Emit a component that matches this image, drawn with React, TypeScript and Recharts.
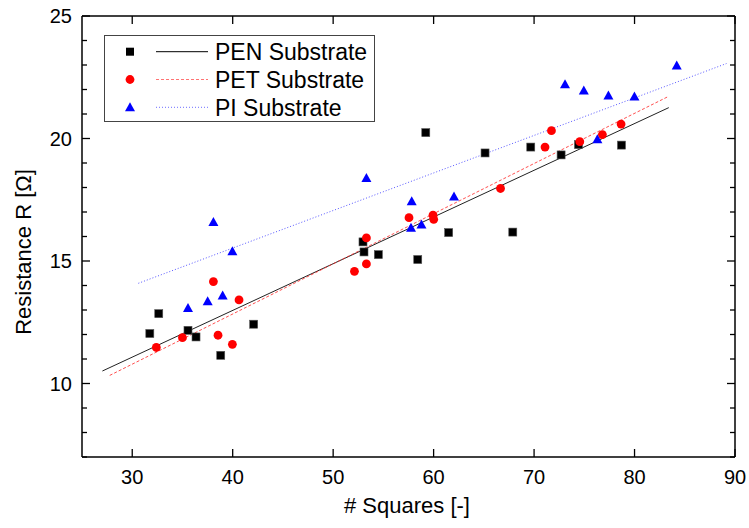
import { ComposedChart, Line, Scatter, XAxis, YAxis, Legend } from "recharts";

// measured data: [# squares, resistance]
const penPoints = [
  [31.75, 12.04], [32.64, 12.85], [35.55, 12.17], [36.35, 11.9], [38.81, 11.15], [42.09, 12.42],
  [52.97, 15.78], [53.07, 15.37], [54.5, 15.26], [58.42, 15.06], [59.22, 20.24], [61.5, 16.16],
  [65.12, 19.41], [67.88, 16.18], [69.67, 19.65], [72.69, 19.33], [74.42, 19.75], [78.7, 19.73],
];
const petPoints = [
  [32.4, 11.47], [35.0, 11.87], [38.08, 14.16], [38.54, 11.97], [39.97, 11.6], [40.63, 13.41],
  [52.12, 14.58], [53.31, 15.94], [53.31, 14.88], [57.55, 16.77], [59.94, 16.87], [60.01, 16.7],
  [66.66, 17.96], [71.09, 19.65], [71.73, 20.32], [74.55, 19.87], [76.8, 20.16], [78.66, 20.59],
];
const piPoints = [
  [35.55, 13.08], [37.51, 13.36], [38.08, 16.59], [39.0, 13.59], [39.97, 15.4], [53.31, 18.39],
  [57.75, 16.36], [57.82, 17.44], [58.79, 16.49], [62.03, 17.63], [73.08, 22.21], [74.95, 21.96],
  [76.3, 19.97], [77.4, 21.76], [79.99, 21.71], [84.2, 22.98],
];

// linear fit end points
const penFit = [[27.03, 10.51], [83.41, 21.26]];
const petFit = [[27.76, 10.33], [83.34, 21.71]];
const piFit = [[30.61, 14.09], [89.15, 23.06]];

const xTicks = [30, 40, 50, 60, 70, 80, 90];
const yTicks = [7, 8, 9, 10, 11, 12, 13, 14, 15, 16, 17, 18, 19, 20, 21, 22, 23, 24, 25];
const yMajor = [10, 15, 20, 25];

const seriesNames = ["PEN Substrate", "PET Substrate", "PI Substrate"];

const FONT = "'Liberation Sans', Arial, sans-serif";
const toXY = (arr: number[][]) => arr.map(([x, y]) => ({ x, y }));

function Square(p: any) {
  return <rect x={p.cx - 4} y={p.cy - 4} width={8} height={8} fill="#000" stroke="#555" strokeWidth={0.6} />;
}
function Dot(p: any) {
  return <circle cx={p.cx} cy={p.cy} r={4.4} fill="#ff0000" />;
}
function Tri(p: any) {
  return <polygon points={`${p.cx},${p.cy - 5} ${p.cx + 5},${p.cy + 4} ${p.cx - 5},${p.cy + 4}`} fill="#0000ff" />;
}

function LeftTick(p: any) {
  const v = p.payload.value;
  const major = yMajor.includes(v);
  return (
    <g>
      <line x1={p.x} x2={p.x + (major ? 8 : 5)} y1={p.y} y2={p.y} stroke="#000" strokeWidth={1.3} />
      {major && (
        <text x={p.x - 10} y={p.y} dy="0.36em" textAnchor="end" fontSize={20} fontFamily={FONT} fill="#000">
          {v}
        </text>
      )}
    </g>
  );
}
function RightTick(p: any) {
  const major = yMajor.includes(p.payload.value);
  return <line x1={p.x} x2={p.x - (major ? 8 : 5)} y1={p.y} y2={p.y} stroke="#000" strokeWidth={1.3} />;
}
function BottomTick(p: any) {
  return (
    <g>
      <line x1={p.x} x2={p.x} y1={p.y} y2={p.y - 8} stroke="#000" strokeWidth={1.3} />
      <text x={p.x} y={p.y + 27} textAnchor="middle" fontSize={20} fontFamily={FONT} fill="#000">
        {p.payload.value}
      </text>
    </g>
  );
}
function TopTick(p: any) {
  return <line x1={p.x} x2={p.x} y1={p.y} y2={p.y + 8} stroke="#000" strokeWidth={1.3} />;
}

function LegendBox() {
  const rows = [
    { mark: <rect x={126} y={-4} width={8} height={8} fill="#000" />, stroke: "#000", dash: undefined, op: 1 },
    { mark: <circle cx={130} cy={0} r={4.4} fill="#ff0000" />, stroke: "#ff5050", dash: "3 2", op: 0.8 },
    { mark: <polygon points="130,-5 135,4 125,4" fill="#0000ff" />, stroke: "#4848ff", dash: "1 2", op: 0.8 },
  ];
  return (
    <svg width={275} height={92} style={{ display: "block" }}>
      <g transform="translate(-103,-34)">
        <rect x={104.5} y={35.5} width={270} height={86} fill="#fff" stroke="#444" strokeWidth={1} />
        {rows.map((r, i) => (
          <g key={i} transform={`translate(0,${51.7 + i * 27.8})`}>
            {r.mark}
            <line x1={156} x2={208} y1={0} y2={0} stroke={r.stroke} strokeDasharray={r.dash} strokeOpacity={r.op} strokeWidth={1} />
            <text x={215} y={0} dy="0.36em" fontSize={23} fontFamily={FONT} fill="#000">
              {seriesNames[i]}
            </text>
          </g>
        ))}
      </g>
    </svg>
  );
}

export default function App() {
  return (
    <div style={{ position: "absolute", left: 0, top: 0, width: 749, height: 528, background: "#fff" }}>
      <ComposedChart width={749} height={528} margin={{ top: 15, right: 13, bottom: 0, left: 0 }}>
        <XAxis
          xAxisId="b"
          dataKey="x"
          type="number"
          domain={[25, 90]}
          ticks={xTicks}
          interval={0}
          allowDataOverflow
          height={71}
          tickSize={0}
          tickMargin={0}
          tickLine={false}
          tick={BottomTick}
          axisLine={{ stroke: "#000", strokeWidth: 1.5 }}
          label={{
            content: () => (
              <text x={407} y={513} textAnchor="middle" fontSize={22} fontFamily={FONT} fill="#000">
                # Squares [-]
              </text>
            ),
          }}
        />
        <XAxis
          xAxisId="t"
          orientation="top"
          dataKey="x"
          type="number"
          domain={[25, 90]}
          ticks={xTicks}
          interval={0}
          allowDataOverflow
          height={1}
          tickSize={0}
          tickMargin={0}
          tickLine={false}
          tick={TopTick}
          axisLine={{ stroke: "#000", strokeWidth: 1.5 }}
        />
        <YAxis
          yAxisId="l"
          type="number"
          domain={[7, 25]}
          ticks={yTicks}
          interval={0}
          allowDataOverflow
          width={82}
          tickSize={0}
          tickMargin={0}
          tickLine={false}
          tick={LeftTick}
          axisLine={{ stroke: "#000", strokeWidth: 1.5 }}
          label={{
            content: () => (
              <text
                x={31}
                y={252}
                transform="rotate(-90 31 252)"
                textAnchor="middle"
                fontSize={22}
                fontFamily={FONT}
                fill="#000"
              >
                Resistance R [Ω]
              </text>
            ),
          }}
        />
        <YAxis
          yAxisId="r"
          orientation="right"
          type="number"
          domain={[7, 25]}
          ticks={yTicks}
          interval={0}
          allowDataOverflow
          width={1}
          tickSize={0}
          tickMargin={0}
          tickLine={false}
          tick={RightTick}
          axisLine={{ stroke: "#000", strokeWidth: 1.5 }}
        />
        <Legend
          layout="horizontal"
          verticalAlign="middle"
          align="center"
          content={LegendBox}
          wrapperStyle={{ position: "absolute", left: 103, top: 34, width: 275, height: 92 }}
        />
        <Line xAxisId="b" yAxisId="l" data={toXY(penFit)} dataKey="y" type="linear" stroke="#222" strokeWidth={1} dot={false} activeDot={false} legendType="none" isAnimationActive={false} />
        <Line xAxisId="b" yAxisId="l" data={toXY(petFit)} dataKey="y" type="linear" stroke="#ff3030" strokeOpacity={0.85} strokeDasharray="3 2" strokeWidth={1} dot={false} activeDot={false} legendType="none" isAnimationActive={false} />
        <Line xAxisId="b" yAxisId="l" data={toXY(piFit)} dataKey="y" type="linear" stroke="#3838ff" strokeOpacity={0.85} strokeDasharray="1 2" strokeWidth={1} dot={false} activeDot={false} legendType="none" isAnimationActive={false} />
        <Scatter xAxisId="b" yAxisId="l" data={toXY(penPoints)} dataKey="y" shape={Square} isAnimationActive={false} />
        <Scatter xAxisId="b" yAxisId="l" data={toXY(petPoints)} dataKey="y" shape={Dot} isAnimationActive={false} />
        <Scatter xAxisId="b" yAxisId="l" data={toXY(piPoints)} dataKey="y" shape={Tri} isAnimationActive={false} />
      </ComposedChart>
    </div>
  );
}
